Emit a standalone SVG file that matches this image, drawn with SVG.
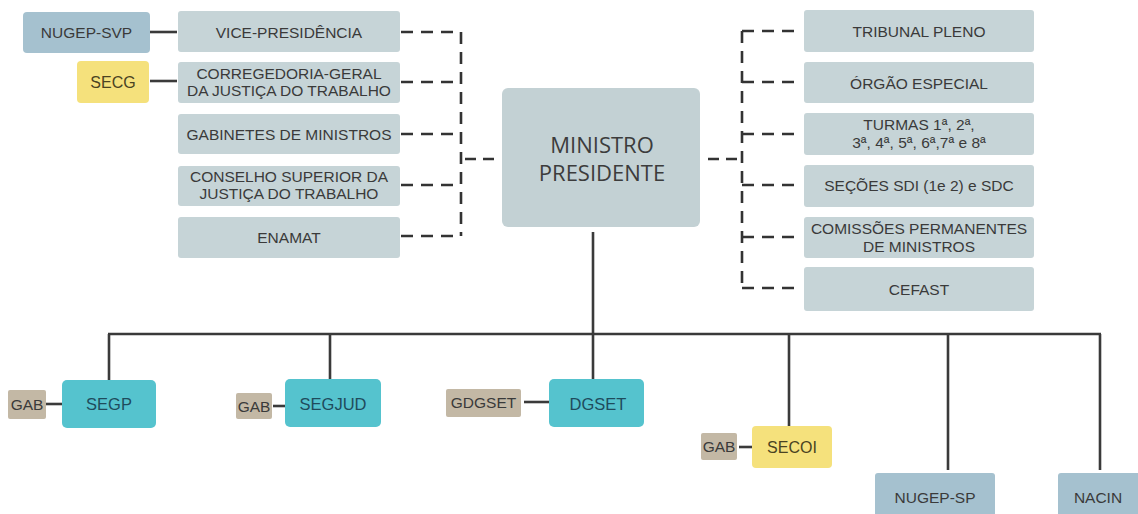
<svg xmlns="http://www.w3.org/2000/svg" width="1138" height="514" viewBox="0 0 1138 514">
<style>
  .g { fill: #c6d4d7; }
  .teal { fill: #55c3ce; }
  .blue { fill: #a5c1cf; }
  .yel { fill: #f5e17c; }
  .tan { fill: #c3b8a5; }
  text { font-family: "Liberation Sans", Arial, sans-serif; font-size: 15.5px; fill: #3a3a3a; text-anchor: middle; }
  .tt { fill: #1f4b5c; font-size: 16.5px; }
  .yt { fill: #4a4322; font-size: 16px; }
  .mp { font-family: "Open Sans", "Noto Sans", sans-serif; font-size: 22px; fill: #3c3c3c; }
  .dash { fill: none; stroke: #333; stroke-width: 2.6; stroke-dasharray: 12 8; }
  .solid { fill: none; stroke: #3a3a3a; stroke-width: 2.6; }
</style>
<rect width="1138" height="514" fill="#ffffff"/>

<g id="connectors">
  <!-- left dashed bracket -->
  <line class="dash" x1="461" y1="32" x2="461" y2="236"/>
  <line class="dash" x1="401" y1="32" x2="461" y2="32"/>
  <line class="dash" x1="401" y1="82" x2="461" y2="82"/>
  <line class="dash" x1="401" y1="134" x2="461" y2="134"/>
  <line class="dash" x1="401" y1="185" x2="461" y2="185"/>
  <line class="dash" x1="401" y1="236" x2="461" y2="236"/>
  <line class="dash" x1="465" y1="159" x2="498" y2="159" style="stroke-dasharray:11 7"/>
  <!-- right dashed bracket -->
  <line class="dash" x1="742" y1="31" x2="742" y2="288"/>
  <line class="dash" x1="742" y1="31" x2="801" y2="31"/>
  <line class="dash" x1="742" y1="82" x2="801" y2="82"/>
  <line class="dash" x1="742" y1="134" x2="801" y2="134"/>
  <line class="dash" x1="742" y1="185" x2="801" y2="185"/>
  <line class="dash" x1="742" y1="237" x2="801" y2="237"/>
  <line class="dash" x1="742" y1="288" x2="801" y2="288"/>
  <line class="dash" x1="708" y1="159" x2="742" y2="159" style="stroke-dasharray:11 7"/>
  <!-- solid side links -->
  <line class="solid" x1="150" y1="32" x2="177" y2="32"/>
  <line class="solid" x1="150" y1="81" x2="177" y2="81"/>
  <!-- main tree -->
  <line class="solid" x1="593" y1="232" x2="593" y2="379"/>
  <line class="solid" x1="108" y1="334" x2="1101" y2="334"/>
  <line class="solid" x1="109" y1="334" x2="109" y2="380"/>
  <line class="solid" x1="330" y1="334" x2="330" y2="379"/>
  <line class="solid" x1="789" y1="334" x2="789" y2="426"/>
  <line class="solid" x1="948" y1="334" x2="948" y2="470"/>
  <line class="solid" x1="1100" y1="334" x2="1100" y2="470"/>
  <!-- GAB links -->
  <line class="solid" x1="46" y1="404" x2="62" y2="404"/>
  <line class="solid" x1="273" y1="406" x2="285" y2="406"/>
  <line class="solid" x1="524" y1="402" x2="549" y2="402"/>
  <line class="solid" x1="739" y1="447" x2="752" y2="447"/>
</g>

<g id="nugep-svp"><rect class="blue" x="23" y="12" width="127" height="41" rx="4"/><text x="86.5" y="38">NUGEP-SVP</text></g>
<g id="secg"><rect class="yel" x="77" y="61" width="72" height="42" rx="4"/><text class="yt" x="113" y="88">SECG</text></g>

<g id="vice"><rect class="g" x="178" y="11" width="222" height="41" rx="3"/><text x="289" y="38">VICE-PRESIDÊNCIA</text></g>
<g id="corregedoria"><rect class="g" x="178" y="62" width="222" height="41" rx="3"/><text x="289" y="79">CORREGEDORIA-GERAL</text><text x="289" y="96">DA JUSTIÇA DO TRABALHO</text></g>
<g id="gabinetes"><rect class="g" x="178" y="114" width="222" height="40" rx="3"/><text x="289" y="140">GABINETES DE MINISTROS</text></g>
<g id="conselho"><rect class="g" x="178" y="166" width="222" height="40" rx="3"/><text x="289" y="182">CONSELHO SUPERIOR DA</text><text x="289" y="199">JUSTIÇA DO TRABALHO</text></g>
<g id="enamat"><rect class="g" x="178" y="217" width="222" height="41" rx="3"/><text x="289" y="243">ENAMAT</text></g>

<g id="ministro"><rect class="g" x="502" y="88" width="198" height="139" rx="6" style="fill:#c3d1d4"/><text class="mp" x="602" y="153">MINISTRO</text><text class="mp" x="602" y="181">PRESIDENTE</text></g>

<g id="tribunal-pleno"><rect class="g" x="804" y="10" width="230" height="42" rx="3"/><text x="919" y="37">TRIBUNAL PLENO</text></g>
<g id="orgao-especial"><rect class="g" x="804" y="62" width="230" height="41" rx="3"/><text x="919" y="89">ÓRGÃO ESPECIAL</text></g>
<g id="turmas"><rect class="g" x="804" y="113" width="230" height="42" rx="3"/><text x="919" y="130">TURMAS 1ª, 2ª,</text><text x="919" y="148">3ª, 4ª, 5ª, 6ª,7ª e 8ª</text></g>
<g id="secoes"><rect class="g" x="804" y="165" width="230" height="42" rx="3"/><text x="919" y="191">SEÇÕES SDI (1e 2) e SDC</text></g>
<g id="comissoes"><rect class="g" x="804" y="217" width="230" height="41" rx="3"/><text x="919" y="234">COMISSÕES PERMANENTES</text><text x="919" y="252">DE MINISTROS</text></g>
<g id="cefast"><rect class="g" x="804" y="267" width="230" height="44" rx="3"/><text x="919" y="295">CEFAST</text></g>

<g id="gab-segp"><rect class="tan" x="8" y="390" width="38" height="29" rx="2"/><text x="27" y="410">GAB</text></g>
<g id="segp"><rect class="teal" x="62" y="380" width="94" height="48" rx="5"/><text class="tt" x="109" y="410">SEGP</text></g>
<g id="gab-segjud"><rect class="tan" x="236" y="393" width="36" height="26" rx="2"/><text x="254" y="412">GAB</text></g>
<g id="segjud"><rect class="teal" x="285" y="379" width="96" height="48" rx="5"/><text class="tt" x="333" y="410">SEGJUD</text></g>
<g id="gdgset"><rect class="tan" x="446" y="389" width="75" height="28" rx="2"/><text x="483.5" y="408">GDGSET</text></g>
<g id="dgset"><rect class="teal" x="549" y="379" width="95" height="48" rx="5"/><text class="tt" x="598" y="410">DGSET</text></g>
<g id="gab-secoi"><rect class="tan" x="701" y="433" width="36" height="27" rx="2"/><text x="719" y="452">GAB</text></g>
<g id="secoi"><rect class="yel" x="752" y="426" width="80" height="42" rx="4"/><text class="yt" x="792" y="453">SECOI</text></g>
<g id="nugep-sp"><rect class="blue" x="875" y="473" width="120" height="50" rx="3"/><text x="935" y="503">NUGEP-SP</text></g>
<g id="nacin"><rect class="blue" x="1058" y="473" width="90" height="50" rx="3"/><text x="1098" y="503">NACIN</text></g>
</svg>
